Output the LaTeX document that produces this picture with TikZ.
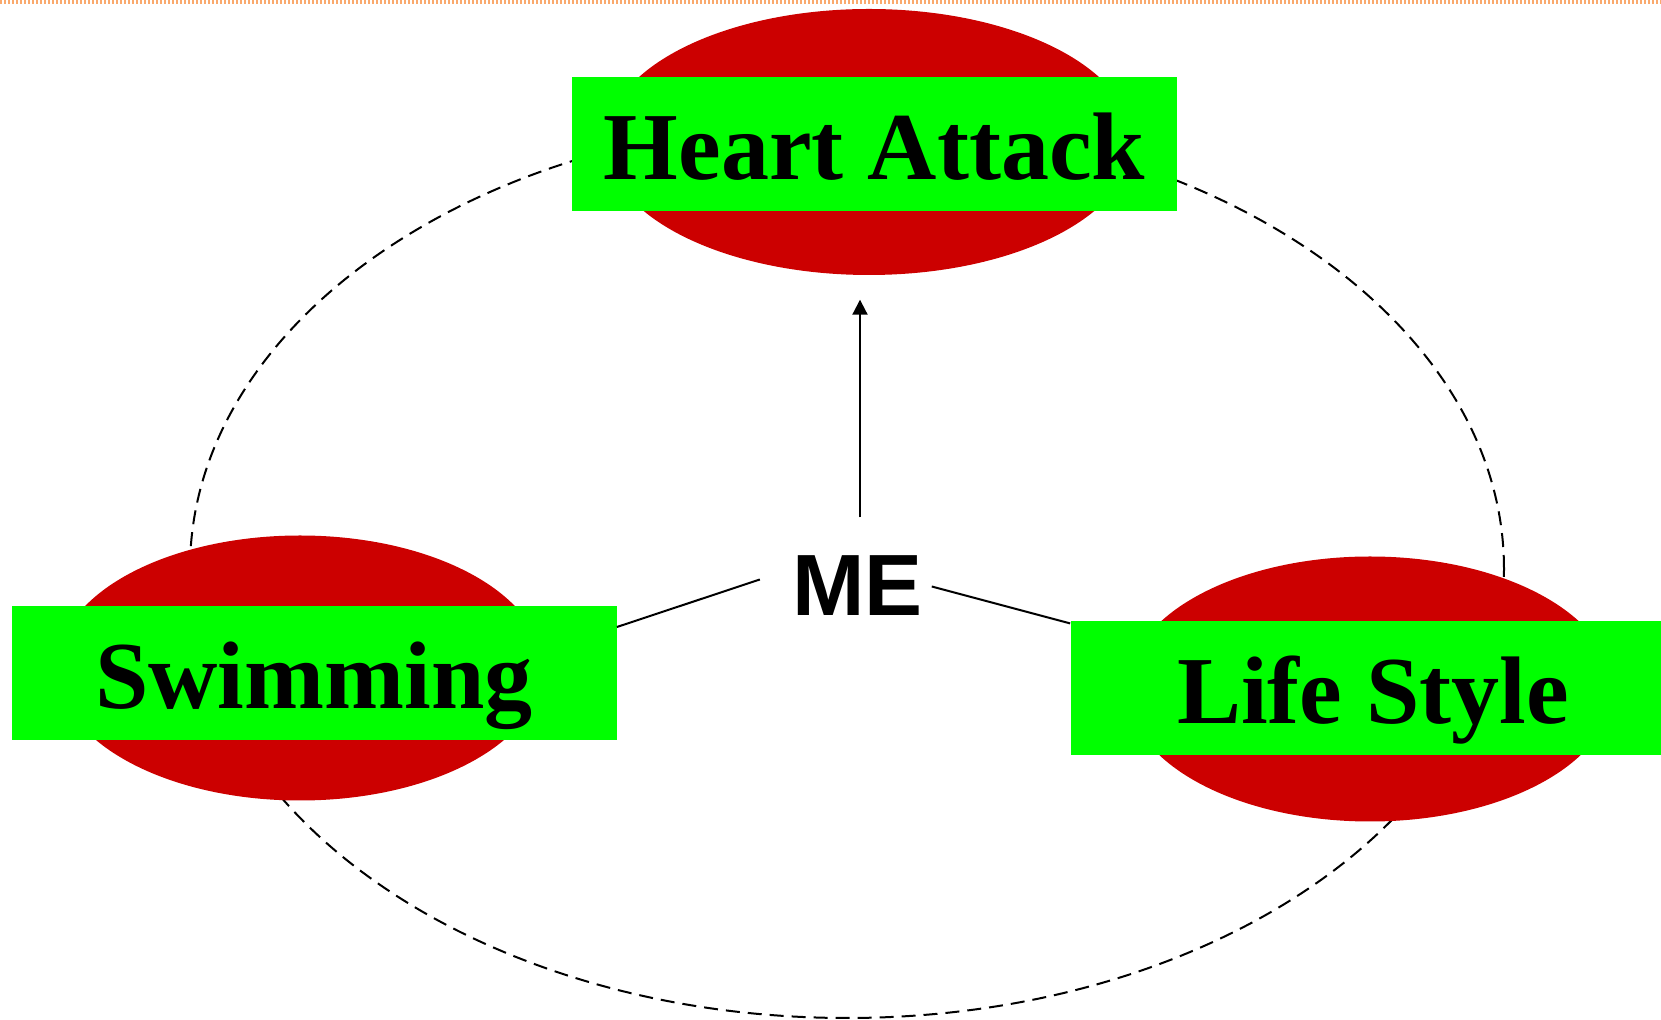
\documentclass[tikz,border=0pt]{standalone}
\usepackage{fontspec}
\setmainfont{Liberation Serif}
\setsansfont{Liberation Sans}
\usetikzlibrary{arrows.meta,shapes.geometric}
\definecolor{blobred}{RGB}{204,0,0}
\definecolor{taggreen}{RGB}{0,255,0}
\definecolor{rimorange}{RGB}{250,170,110}

\begin{document}
\begin{tikzpicture}[x=0.5pt,y=-0.5pt,
    blob/.style={fill=blobred,ellipse,inner sep=0pt,minimum
        width=243pt,minimum height=132.5pt},
    tag/.style={fill=taggreen,inner sep=0pt,minimum width=302.5pt,minimum
        height=67pt,font=\fontsize{48}{50}\selectfont\bfseries,
        text height=35.5pt,text depth=0pt},
    link/.style={line width=1pt}]

    \useasboundingbox (0,0) rectangle (1661,1020);
    \draw[rimorange,line width=2pt,dash pattern=on 1pt off 1pt] (0,2) -- (1661,2);

    % the ring behind everything
    \draw[line width=1pt,dash pattern=on 7pt off 4pt] (847,569) ellipse
    [x radius=328.5pt,y radius=224.5pt];

    \node[blob,minimum width=263.5pt,minimum height=133pt] (heartE) at (869,142) {};
    \node[blob] (swimE) at (300,668) {};
    \node[blob] (lifeE) at (1370,689) {};

    \node[tag] (heart) at (874.5,144) {Heart Attack};
    \node[tag] (swim) at (314,673) {Swimming};
    \node[tag] (life) at (1373,688) {Life Style};

    \node[font=\sffamily\bfseries\fontsize{43.5}{45}\selectfont,inner sep=0pt,
        text height=31.1pt,text depth=0pt] (me) at (857.5,584.5) {ME};

    \draw[link,-{Triangle[length=7.5pt,width=7.5pt]}] ([xshift=1.25pt,yshift=17.8pt]me.north) to
         ([xshift=-4.5pt,yshift=-12.15pt]heartE.south);
    \draw[link] ([xshift=-16pt,yshift=2.5pt]me.west) to
         ([yshift=23pt]swim.east);
    \draw[link] ([xshift=4.3pt,yshift=-1pt]me.east) to
         ([yshift=32.3pt]life.west);

\end{tikzpicture}
\end{document}
